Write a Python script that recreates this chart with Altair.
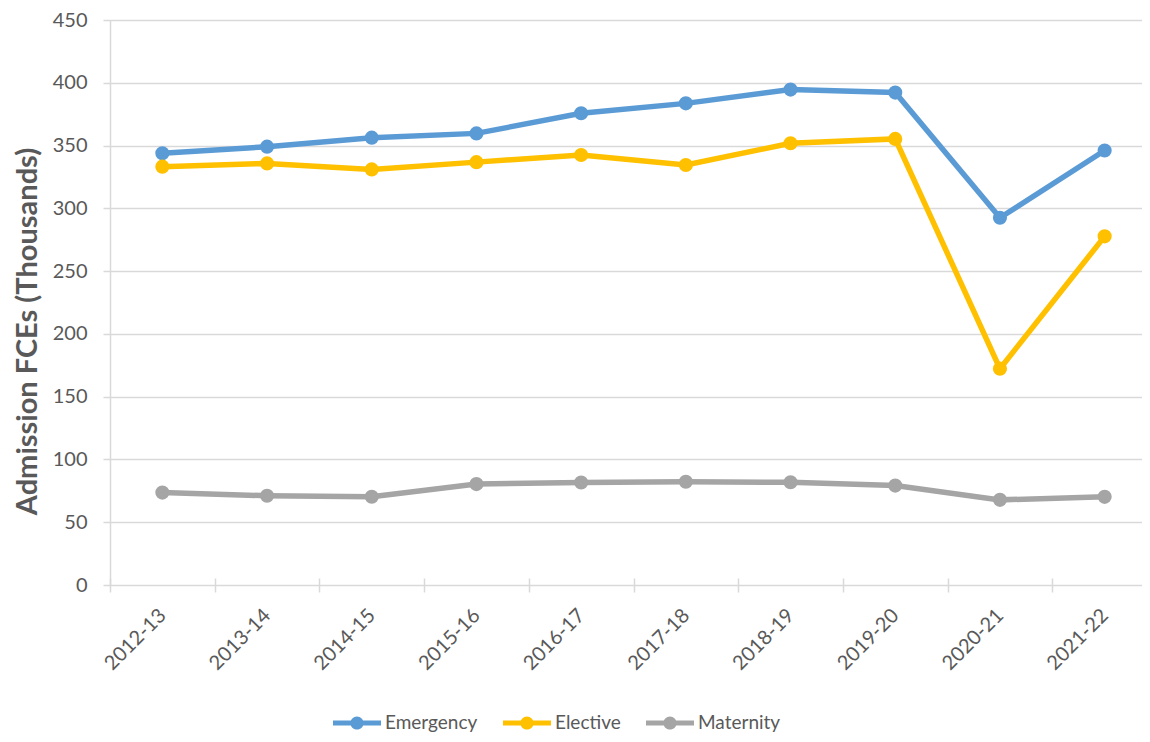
import altair as alt
import pandas as pd

years = ["2012-13", "2013-14", "2014-15", "2015-16", "2016-17",
         "2017-18", "2018-19", "2019-20", "2020-21", "2021-22"]
emergency = [343.8, 349.1, 356.3, 359.7, 375.7, 383.6, 394.6, 392.2, 292.5, 346.1]
elective = [333.2, 335.8, 331.0, 336.8, 342.5, 334.5, 351.8, 355.3, 172.3, 277.7]
maternity = [73.6, 71.1, 70.3, 80.4, 81.6, 82.2, 81.8, 79.2, 67.8, 70.2]

series = ["Emergency", "Elective", "Maternity"]
colors = ["#5B9BD5", "#FFC000", "#A5A5A5"]

rows = []
for name, vals in zip(series, [emergency, elective, maternity]):
    for y, v in zip(years, vals):
        rows.append({"Year": y, "Series": name, "Value": v})
df = pd.DataFrame(rows)

FONT = "Lato"
GRID = "#D9D9D9"
TEXT = "#595959"

LEGEND_PATH = ("M-2,-0.2L2,-0.2L2,0.2L-2,0.2Z "
               "M0.55,0A0.55,0.55,0,1,1,-0.55,0A0.55,0.55,0,1,1,0.55,0Z")

x = alt.X(
    "Year:O",
    sort=years,
    scale=alt.Scale(type="band", range=[0, 1047], paddingInner=0, paddingOuter=0),
    axis=alt.Axis(
        title=None,
        labelAngle=-45,
        labelAlign="right",
        labelBaseline="middle",
        labelFont=FONT,
        labelFontSize=20,
        labelColor=TEXT,
        labelPadding=20,
        tickBand="extent",
        tickSize=14,
        tickColor=GRID,
        tickWidth=1.5,
        offset=-7,
        domain=False,
        grid=False,
    ),
)

y = alt.Y(
    "Value:Q",
    scale=alt.Scale(domain=[0, 450], nice=False),
    axis=alt.Axis(
        values=list(range(0, 451, 50)),
        title="Admission FCEs (Thousands)",
        titleFont=FONT,
        titleFontSize=29,
        titleFontWeight="bold",
        titleColor=TEXT,
        titleX=-83,
        titleY=311,
        titleAlign="center",
        titleBaseline="middle",
        titleAngle=-90,
        labelFont=FONT,
        labelFontSize=20,
        labelColor=TEXT,
        labelPadding=16,
        tickSize=7,
        tickColor=GRID,
        tickWidth=1.5,
        domainColor=GRID,
        domainWidth=1.5,
        gridColor=GRID,
        gridWidth=1.5,
    ),
)

color = alt.Color(
    "Series:N",
    sort=series,
    scale=alt.Scale(domain=series, range=colors),
    legend=alt.Legend(
        title=None,
        orient="none",
        direction="horizontal",
        legendX=235,
        legendY=691,
        symbolType=LEGEND_PATH,
        symbolSize=576,
        symbolStrokeWidth=0,
        symbolOpacity=1,
        labelFont=FONT,
        labelFontSize=19,
        labelColor=TEXT,
        labelOffset=16,
        columnPadding=25,
    ),
)

base = alt.Chart(df).encode(x=x, y=y, color=color, order=alt.Order("Year:O"))

points = base.mark_point(filled=True, size=200, opacity=1)
lines = base.mark_line(strokeWidth=5.5)

chart = (
    alt.layer(points, lines)
    .properties(
        width=1032,
        height=565,
        autosize=alt.AutoSizeParams(type="none"),
        padding={"left": 102, "top": 12, "right": 0, "bottom": 149},
    )
    .configure_view(stroke=None)
    .configure(background="white")
)

chart.save("out.html", embed_options={"renderer": "svg", "actions": False})
